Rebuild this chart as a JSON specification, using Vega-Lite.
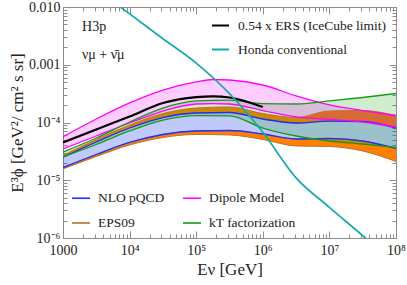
{
  "$schema": "https://vega.github.io/schema/vega-lite/v6.json",
  "width": 333,
  "height": 231,
  "autosize": {"type": "none"},
  "padding": {"left": 63, "top": 7, "right": 11, "bottom": 47},
  "background": "white",
  "config": {
    "font": "Liberation Serif",
    "view": {"stroke": "#8c8c8c", "strokeWidth": 1},
    "axis": {"domain": false, "grid": false, "tickColor": "#8c8c8c", "labelFont": "Liberation Serif", "labelFontSize": 14, "labelColor": "#222222", "titleFont": "Liberation Serif", "titleFontWeight": "normal", "titleFontSize": 17, "titleColor": "#222222", "labelOverlap": false, "labelFlush": false},
    "legend": {"labelFont": "Liberation Serif", "labelFontSize": 13.5, "labelColor": "#222222", "labelLimit": 260}
  },
  "datasets": {
    "bands": [
      {"band": "NLO pQCD", "part": "main", "E": 1000, "lo": 1.66e-5, "hi": 2.50e-5},
      {"band": "NLO pQCD", "part": "main", "E": 3162, "lo": 2.79e-5, "hi": 4.60e-5},
      {"band": "NLO pQCD", "part": "main", "E": 10000, "lo": 4.51e-5, "hi": 8.03e-5},
      {"band": "NLO pQCD", "part": "main", "E": 31623, "lo": 6.20e-5, "hi": 1.22e-4},
      {"band": "NLO pQCD", "part": "main", "E": 100000, "lo": 7.13e-5, "hi": 1.46e-4},
      {"band": "NLO pQCD", "part": "main", "E": 316228, "lo": 7.27e-5, "hi": 1.49e-4},
      {"band": "NLO pQCD", "part": "main", "E": 1000000, "lo": 6.32e-5, "hi": 1.15e-4},
      {"band": "NLO pQCD", "part": "main", "E": 3162278, "lo": 5.18e-5, "hi": 9.80e-5},
      {"band": "NLO pQCD", "part": "main", "E": 10000000, "lo": 5.28e-5, "hi": 1.06e-4},
      {"band": "NLO pQCD", "part": "main", "E": 31622777, "lo": 4.78e-5, "hi": 1.04e-4},
      {"band": "NLO pQCD", "part": "main", "E": 100000000, "lo": 3.55e-5, "hi": 8.03e-5},
      {"band": "Dipole Model", "part": "main", "E": 1000, "lo": 3.48e-5, "hi": 5.68e-5},
      {"band": "Dipole Model", "part": "main", "E": 3162, "lo": 5.84e-5, "hi": 1.15e-4},
      {"band": "Dipole Model", "part": "main", "E": 10000, "lo": 9.80e-5, "hi": 2.18e-4},
      {"band": "Dipole Model", "part": "main", "E": 31623, "lo": 1.58e-4, "hi": 3.65e-4},
      {"band": "Dipole Model", "part": "main", "E": 100000, "lo": 2.09e-4, "hi": 5.03e-4},
      {"band": "Dipole Model", "part": "main", "E": 177828, "lo": 2.13e-4, "hi": 5.55e-4},
      {"band": "Dipole Model", "part": "main", "E": 316228, "lo": 2.09e-4, "hi": 5.44e-4},
      {"band": "Dipole Model", "part": "main", "E": 1000000, "lo": 1.61e-4, "hi": 4.46e-4},
      {"band": "Dipole Model", "part": "main", "E": 3162278, "lo": 1.25e-4, "hi": 2.88e-4},
      {"band": "Dipole Model", "part": "main", "E": 10000000, "lo": 1.13e-4, "hi": 2.01e-4},
      {"band": "Dipole Model", "part": "main", "E": 31622777, "lo": 1.02e-4, "hi": 1.61e-4},
      {"band": "Dipole Model", "part": "main", "E": 100000000, "lo": 8.36e-5, "hi": 1.32e-4},
      {"band": "kT factorization", "part": "main", "E": 1000, "lo": 2.53e-5, "hi": 3.08e-5},
      {"band": "kT factorization", "part": "main", "E": 3162, "lo": 4.16e-5, "hi": 5.39e-5},
      {"band": "kT factorization", "part": "main", "E": 10000, "lo": 7.13e-5, "hi": 1.02e-4},
      {"band": "kT factorization", "part": "main", "E": 31623, "lo": 1.10e-4, "hi": 1.78e-4},
      {"band": "kT factorization", "part": "main", "E": 100000, "lo": 1.32e-4, "hi": 2.36e-4},
      {"band": "kT factorization", "part": "main", "E": 316228, "lo": 1.30e-4, "hi": 2.45e-4},
      {"band": "kT factorization", "part": "main", "E": 1000000, "lo": 8.03e-5, "hi": 2.13e-4},
      {"band": "kT factorization", "part": "main", "E": 3162278, "lo": 5.84e-5, "hi": 2.09e-4},
      {"band": "kT factorization", "part": "main", "E": 10000000, "lo": 4.78e-5, "hi": 2.36e-4},
      {"band": "kT factorization", "part": "main", "E": 31622777, "lo": 4.24e-5, "hi": 2.71e-4},
      {"band": "kT factorization", "part": "main", "E": 100000000, "lo": 3.69e-5, "hi": 3.18e-4},
      {"band": "EPS09", "part": "upper", "E": 1000, "lo": 2.50e-5, "hi": 2.70e-5},
      {"band": "EPS09", "part": "upper", "E": 3162, "lo": 4.60e-5, "hi": 5.08e-5},
      {"band": "EPS09", "part": "upper", "E": 10000, "lo": 8.03e-5, "hi": 9.05e-5},
      {"band": "EPS09", "part": "upper", "E": 31623, "lo": 1.22e-4, "hi": 1.43e-4},
      {"band": "EPS09", "part": "upper", "E": 100000, "lo": 1.46e-4, "hi": 1.78e-4},
      {"band": "EPS09", "part": "upper", "E": 316228, "lo": 1.49e-4, "hi": 1.86e-4},
      {"band": "EPS09", "part": "upper", "E": 1000000, "lo": 1.15e-4, "hi": 1.43e-4},
      {"band": "EPS09", "part": "upper", "E": 3162278, "lo": 9.80e-5, "hi": 1.22e-4},
      {"band": "EPS09", "part": "upper", "E": 10000000, "lo": 1.06e-4, "hi": 1.58e-4},
      {"band": "EPS09", "part": "upper", "E": 31622777, "lo": 1.04e-4, "hi": 1.61e-4},
      {"band": "EPS09", "part": "upper", "E": 100000000, "lo": 8.03e-5, "hi": 1.32e-4},
      {"band": "EPS09", "part": "lower", "E": 1000, "lo": 1.57e-5, "hi": 1.66e-5},
      {"band": "EPS09", "part": "lower", "E": 3162, "lo": 2.58e-5, "hi": 2.79e-5},
      {"band": "EPS09", "part": "lower", "E": 10000, "lo": 4.08e-5, "hi": 4.51e-5},
      {"band": "EPS09", "part": "lower", "E": 31623, "lo": 5.50e-5, "hi": 6.20e-5},
      {"band": "EPS09", "part": "lower", "E": 100000, "lo": 6.20e-5, "hi": 7.13e-5},
      {"band": "EPS09", "part": "lower", "E": 316228, "lo": 6.08e-5, "hi": 7.27e-5},
      {"band": "EPS09", "part": "lower", "E": 1000000, "lo": 5.08e-5, "hi": 6.32e-5},
      {"band": "EPS09", "part": "lower", "E": 3162278, "lo": 3.92e-5, "hi": 5.18e-5},
      {"band": "EPS09", "part": "lower", "E": 10000000, "lo": 3.84e-5, "hi": 5.28e-5},
      {"band": "EPS09", "part": "lower", "E": 31622777, "lo": 3.21e-5, "hi": 4.78e-5},
      {"band": "EPS09", "part": "lower", "E": 100000000, "lo": 2.11e-5, "hi": 3.55e-5}
    ],
    "lines": [
      {"series": "0.54 x ERS (IceCube limit)", "E": 1000, "flux": 4.51e-5},
      {"series": "0.54 x ERS (IceCube limit)", "E": 3162, "flux": 7.57e-5},
      {"series": "0.54 x ERS (IceCube limit)", "E": 10000, "flux": 1.27e-4},
      {"series": "0.54 x ERS (IceCube limit)", "E": 31623, "flux": 2.18e-4},
      {"series": "0.54 x ERS (IceCube limit)", "E": 100000, "flux": 2.76e-4},
      {"series": "0.54 x ERS (IceCube limit)", "E": 177828, "flux": 2.84e-4},
      {"series": "0.54 x ERS (IceCube limit)", "E": 316228, "flux": 2.71e-4},
      {"series": "0.54 x ERS (IceCube limit)", "E": 562341, "flux": 2.31e-4},
      {"series": "0.54 x ERS (IceCube limit)", "E": 1000000, "flux": 1.86e-4},
      {"series": "Honda conventional", "E": 6310, "flux": 0.0112},
      {"series": "Honda conventional", "E": 10000, "flux": 0.0076},
      {"series": "Honda conventional", "E": 31623, "flux": 0.00282},
      {"series": "Honda conventional", "E": 100000, "flux": 0.00107},
      {"series": "Honda conventional", "E": 316228, "flux": 3.16e-4},
      {"series": "Honda conventional", "E": 1000000, "flux": 6.76e-5},
      {"series": "Honda conventional", "E": 3162278, "flux": 1.1e-5},
      {"series": "Honda conventional", "E": 10000000, "flux": 3.4e-6},
      {"series": "Honda conventional", "E": 34673685, "flux": 1.0e-6},
      {"series": "Honda conventional", "E": 39810717, "flux": 8.7e-7}
    ],
    "notes": [
      {"text": "H3p", "E": 1930, "flux": 0.0045},
      {"text": "νμ + ν̄μ", "E": 1930, "flux": 0.00148}
    ]
  },
  "layer": [
    {
      "data": {"name": "bands"},
      "transform": [{"filter": "datum.band === 'EPS09'"}],
      "mark": {"type": "area", "interpolate": "monotone", "fill": "#ff8000", "fillOpacity": 1, "clip": true},
      "encoding": {
        "detail": {"field": "part"},
        "x": {"field": "E", "type": "quantitative", "scale": {"type": "log", "domain": [1000, 100000000], "nice": false},
          "axis": {"orient": "bottom", "title": "Eν [GeV]", "titlePadding": 1, "labelPadding": 12,
            "values": [1000,2000,3000,4000,5000,6000,7000,8000,9000,10000,20000,30000,40000,50000,60000,70000,80000,90000,100000,200000,300000,400000,500000,600000,700000,800000,900000,1000000,2000000,3000000,4000000,5000000,6000000,7000000,8000000,9000000,10000000,20000000,30000000,40000000,50000000,60000000,70000000,80000000,90000000,100000000],
            "tickSize": {"condition": {"test": "abs(log(datum.value)/LN10 - round(log(datum.value)/LN10)) < 0.01", "value": -7}, "value": -4},
            "labelExpr": "(abs(log(datum.value)/LN10 - round(log(datum.value)/LN10)) > 0.01) ? '' : (datum.value < 2000 ? '1000' : (datum.value < 20000 ? '10⁴' : (datum.value < 200000 ? '10⁵' : (datum.value < 2000000 ? '10⁶' : (datum.value < 20000000 ? '10⁷' : '10⁸')))))"}},
        "y": {"field": "hi", "type": "quantitative", "scale": {"type": "log", "domain": [0.000001, 0.01], "nice": false},
          "axis": {"orient": "left", "title": "E³ϕ [GeV²/ cm² s sr]", "titlePadding": 2, "labelPadding": 10,
            "values": [0.000001,0.000002,0.000003,0.000004,0.000005,0.000006,0.000007,0.000008,0.000009,0.00001,0.00002,0.00003,0.00004,0.00005,0.00006,0.00007,0.00008,0.00009,0.0001,0.0002,0.0003,0.0004,0.0005,0.0006,0.0007,0.0008,0.0009,0.001,0.002,0.003,0.004,0.005,0.006,0.007,0.008,0.009,0.01],
            "tickSize": {"condition": {"test": "abs(log(datum.value)/LN10 - round(log(datum.value)/LN10)) < 0.01", "value": -7}, "value": -4},
            "labelExpr": "(abs(log(datum.value)/LN10 - round(log(datum.value)/LN10)) > 0.01) ? '' : (datum.value > 0.005 ? '0.010' : (datum.value > 0.0005 ? '0.001' : (datum.value > 0.00005 ? '10⁻⁴' : (datum.value > 0.000005 ? '10⁻⁵' : '10⁻⁶'))))"}},
        "y2": {"field": "lo"}
      }
    },
    {
      "data": {"name": "bands"},
      "transform": [{"filter": "datum.band === 'NLO pQCD'"}],
      "mark": {"type": "area", "interpolate": "monotone", "fill": "#3050f0", "fillOpacity": 0.3, "clip": true},
      "encoding": {
        "x": {"field": "E", "type": "quantitative", "scale": {"type": "log", "domain": [1000, 100000000], "nice": false}, "axis": null},
        "y": {"field": "hi", "type": "quantitative", "scale": {"type": "log", "domain": [0.000001, 0.01], "nice": false}, "axis": null},
        "y2": {"field": "lo"}
      }
    },
    {
      "data": {"name": "bands"},
      "transform": [{"filter": "datum.band === 'kT factorization'"}],
      "mark": {"type": "area", "interpolate": "monotone", "fill": "#10a010", "fillOpacity": 0.2, "clip": true},
      "encoding": {
        "x": {"field": "E", "type": "quantitative", "axis": null},
        "y": {"field": "hi", "type": "quantitative", "axis": null},
        "y2": {"field": "lo"}
      }
    },
    {
      "data": {"name": "bands"},
      "transform": [{"filter": "datum.band === 'Dipole Model'"}],
      "mark": {"type": "area", "interpolate": "monotone", "fill": "#ff00ff", "fillOpacity": 0.2, "clip": true},
      "encoding": {
        "x": {"field": "E", "type": "quantitative", "axis": null},
        "y": {"field": "hi", "type": "quantitative", "axis": null},
        "y2": {"field": "lo"}
      }
    },
    {
      "data": {"name": "bands"},
      "transform": [{"filter": "datum.band === 'EPS09'"}, {"fold": ["hi", "lo"], "as": ["edge", "val"]}],
      "mark": {"type": "line", "interpolate": "monotone", "strokeWidth": 1, "clip": true},
      "encoding": {
        "x": {"field": "E", "type": "quantitative", "axis": null},
        "y": {"field": "val", "type": "quantitative", "axis": null},
        "detail": [{"field": "part"}, {"field": "edge"}],
        "stroke": {"field": "band", "type": "nominal",
          "scale": {"domain": ["NLO pQCD", "EPS09", "Dipole Model", "kT factorization"], "range": ["#1f2fff", "#b8732e", "#ff00ff", "#159a15"]},
          "legend": {"orient": "bottom-left", "title": null, "columns": 2, "symbolType": "stroke", "symbolStrokeWidth": 1.6, "symbolSize": 324, "columnPadding": 14, "rowPadding": 8, "offset": 8, "labelOffset": 7}}
      }
    },
    {
      "data": {"name": "bands"},
      "transform": [{"filter": "datum.band !== 'EPS09'"}, {"fold": ["hi", "lo"], "as": ["edge", "val"]}],
      "mark": {"type": "line", "interpolate": "monotone", "strokeWidth": 1.3, "clip": true},
      "encoding": {
        "x": {"field": "E", "type": "quantitative", "axis": null},
        "y": {"field": "val", "type": "quantitative", "axis": null},
        "detail": {"field": "edge"},
        "stroke": {"field": "band", "type": "nominal"}
      }
    },
    {
      "data": {"name": "lines"},
      "transform": [{"filter": "datum.series !== 'Honda conventional'"}],
      "mark": {"type": "line", "interpolate": "monotone", "strokeWidth": 2.2, "clip": true},
      "encoding": {
        "x": {"field": "E", "type": "quantitative", "axis": null},
        "y": {"field": "flux", "type": "quantitative", "axis": null},
        "color": {"field": "series", "type": "nominal",
          "scale": {"domain": ["0.54 x ERS (IceCube limit)", "Honda conventional"], "range": ["#000000", "#17a8a8"]},
          "legend": {"orient": "top-right", "title": null, "symbolType": "stroke", "symbolStrokeWidth": 2, "symbolSize": 289, "rowPadding": 8, "offset": 9, "labelOffset": 8}}
      }
    },
    {
      "data": {"name": "lines"},
      "transform": [{"filter": "datum.series === 'Honda conventional'"}],
      "mark": {"type": "line", "interpolate": "monotone", "strokeWidth": 1.7, "clip": true},
      "encoding": {
        "x": {"field": "E", "type": "quantitative",
          "axis": {"orient": "top", "title": null, "labels": false,
            "values": [1000,2000,3000,4000,5000,6000,7000,8000,9000,10000,20000,30000,40000,50000,60000,70000,80000,90000,100000,200000,300000,400000,500000,600000,700000,800000,900000,1000000,2000000,3000000,4000000,5000000,6000000,7000000,8000000,9000000,10000000,20000000,30000000,40000000,50000000,60000000,70000000,80000000,90000000,100000000],
            "tickSize": {"condition": {"test": "abs(log(datum.value)/LN10 - round(log(datum.value)/LN10)) < 0.01", "value": -7}, "value": -4}}},
        "y": {"field": "flux", "type": "quantitative",
          "axis": {"orient": "right", "title": null, "labels": false,
            "values": [0.000001,0.000002,0.000003,0.000004,0.000005,0.000006,0.000007,0.000008,0.000009,0.00001,0.00002,0.00003,0.00004,0.00005,0.00006,0.00007,0.00008,0.00009,0.0001,0.0002,0.0003,0.0004,0.0005,0.0006,0.0007,0.0008,0.0009,0.001,0.002,0.003,0.004,0.005,0.006,0.007,0.008,0.009,0.01],
            "tickSize": {"condition": {"test": "abs(log(datum.value)/LN10 - round(log(datum.value)/LN10)) < 0.01", "value": -7}, "value": -4}}},
        "color": {"field": "series", "type": "nominal"}
      }
    },
    {
      "data": {"name": "notes"},
      "mark": {"type": "text", "align": "left", "baseline": "middle", "font": "Liberation Serif", "fontSize": 14, "color": "#222222"},
      "encoding": {
        "x": {"field": "E", "type": "quantitative", "axis": null},
        "y": {"field": "flux", "type": "quantitative", "axis": null},
        "text": {"field": "text"}
      }
    }
  ],
  "resolve": {"axis": {"x": "independent", "y": "independent"}}
}
